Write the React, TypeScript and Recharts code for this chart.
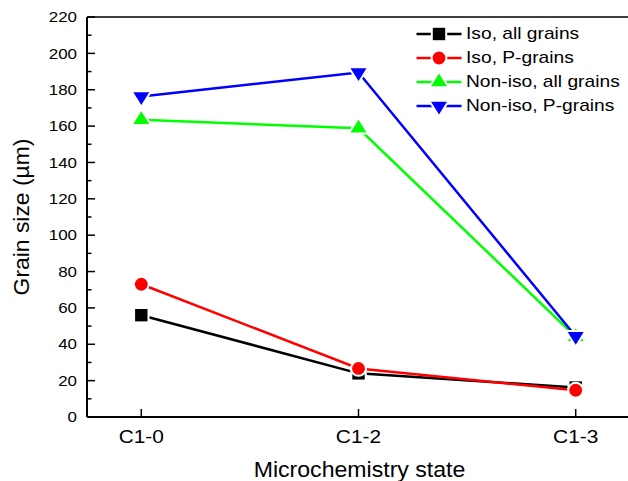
import React from 'react';
import { LineChart, Line, XAxis, YAxis, Legend, ReferenceLine, Customized } from 'recharts';

// ---- data ----
const categories = ['C1-0', 'C1-2', 'C1-3'];
const isoAll = [56, 24, 16.2];
const isoP = [73, 26.7, 14.7];
const nonIsoAll = [163.5, 158.8, 44.1];
const nonIsoP = [176.3, 189.5, 44.4];
const yTicks = [0, 10, 20, 30, 40, 50, 60, 70, 80, 90, 100, 110, 120, 130, 140, 150, 160, 170, 180, 190, 200, 210, 220];
const seriesKeys = ['isoAll', 'isoP', 'nonIsoAll', 'nonIsoP'];
const seriesNames = ['Iso, all grains', 'Iso, P-grains', 'Non-iso, all grains', 'Non-iso, P-grains'];
const seriesColors = ['#000000', '#ff0000', '#00ff00', '#0000ff'];
const seriesShapes = ['square', 'circle', 'up', 'down'];
const xTitle = 'Microchemistry state';
const yTitle = 'Grain size (µm)';

const data = categories.map((c, i) => ({
  x: i,
  cat: c,
  isoAll: isoAll[i],
  isoP: isoP[i],
  nonIsoAll: nonIsoAll[i],
  nonIsoP: nonIsoP[i],
}));

const FONT = '"Liberation Sans", Arial, sans-serif';
const SX = 1.13;

function MarkerShape({ cx, cy, shape, color }: { cx: number; cy: number; shape: string; color: string }) {
  if (cx == null || cy == null) return null;
  let el: (fill: string, stroke: string, sw: number) => React.ReactNode;
  if (shape === 'circle') {
    el = (f, s, sw) => <circle cx={cx} cy={cy} r={6.4} fill={f} stroke={s} strokeWidth={sw} />;
  } else {
    let d = '';
    if (shape === 'square') d = `M${cx - 6.2},${cy - 6.2}h12.4v12.4h-12.4z`;
    else if (shape === 'up') d = `M${cx},${cy - 8.5}L${cx + 8},${cy + 4.3}L${cx - 8},${cy + 4.3}Z`;
    else d = `M${cx},${cy + 8.5}L${cx + 8},${cy - 4.3}L${cx - 8},${cy - 4.3}Z`;
    el = (f, s, sw) => <path d={d} fill={f} stroke={s} strokeWidth={sw} strokeLinejoin="round" />;
  }
  return (
    <g>
      {el('#ffffff', '#ffffff', 4)}
      {el(color, 'none', 0)}
    </g>
  );
}

const YTick = (props: any) => {
  const { x, y, payload } = props;
  const v = payload.value;
  const major = v % 20 === 0;
  return (
    <g>
      <line x1={x} x2={x + (major ? 8 : 4.5)} y1={y} y2={y} stroke="#000" strokeWidth={1.5} />
      {major && (
        <text
          transform={`translate(${x - 10},${y}) scale(${SX},1)`}
          x={0}
          y={0}
          textAnchor="end"
          dominantBaseline="central"
          fontSize={15}
          fontFamily={FONT}
          fill="#000"
        >
          {v}
        </text>
      )}
    </g>
  );
};

const XTick = (props: any) => {
  const { x, y, payload } = props;
  return (
    <g>
      <line x1={x} x2={x} y1={y} y2={y - 8} stroke="#000" strokeWidth={1.5} />
      <text
        transform={`translate(${x},${y + 25.5}) scale(${SX},1)`}
        x={0}
        y={0}
        textAnchor="middle"
        fontSize={18.5}
        fontFamily={FONT}
        fill="#000"
      >
        {categories[payload.value]}
      </text>
    </g>
  );
};

const renderLegend = () => (
  <div style={{ fontFamily: FONT, fontSize: 17, color: '#000' }}>
    {seriesNames.map((n, i) => (
      <div key={n} style={{ display: 'flex', alignItems: 'center', height: 24 }}>
        <svg width={48} height={24} style={{ display: 'block' }}>
          <line x1={1.5} x2={46.5} y1={12} y2={12} stroke={seriesColors[i]} strokeWidth={2.5} />
          <MarkerShape cx={24} cy={12} shape={seriesShapes[i]} color={seriesColors[i]} />
        </svg>
        <span
          style={{
            marginLeft: 3,
            whiteSpace: 'nowrap',
            lineHeight: '24px',
            display: 'inline-block',
            transform: `scaleX(${SX})`,
            transformOrigin: 'left center',
          }}
        >
          {n}
        </span>
      </div>
    ))}
  </div>
);

export default function App() {
  return (
    <div style={{ position: 'absolute', left: 0, top: 0, width: 628, height: 481, overflow: 'hidden', background: '#fff' }}>
      <LineChart
        width={640}
        height={481}
        data={data}
        margin={{ top: 17, right: 10, bottom: 0, left: 0 }}
        style={{ fontFamily: FONT }}
      >
        <XAxis
          dataKey="x"
          type="number"
          domain={[-0.25, 2.25]}
          ticks={[0, 1, 2]}
          interval={0}
          height={64}
          tickSize={0}
          tickMargin={0}
          tickLine={false}
          axisLine={{ stroke: '#000', strokeWidth: 2 }}
          tick={<XTick />}
        />
        <YAxis
          type="number"
          domain={[0, 220]}
          ticks={yTicks}
          interval={0}
          width={87}
          tickSize={0}
          tickMargin={0}
          tickLine={false}
          axisLine={{ stroke: '#000', strokeWidth: 2 }}
          tick={<YTick />}
        />
        <ReferenceLine y={220} stroke="#000" strokeWidth={1.5} />
        {seriesKeys.map((k, i) => (
          <Line
            key={k}
            dataKey={k}
            name={seriesNames[i]}
            stroke={seriesColors[i]}
            strokeWidth={2.5}
            isAnimationActive={false}
            activeDot={false}
            dot={(p: any) => (
              <MarkerShape key={`${k}-${p.index}`} cx={p.cx} cy={p.cy} shape={seriesShapes[i]} color={seriesColors[i]} />
            )}
          />
        ))}
        <Legend
          layout="vertical"
          align="center"
          verticalAlign="middle"
          content={renderLegend}
          wrapperStyle={{ position: 'absolute', left: 415, top: 22, width: 'auto', height: 'auto' }}
        />
        <Customized
          component={() => (
            <g>
              <text
                transform="translate(28.5, 217) rotate(-90) scale(1.04,1)"
                textAnchor="middle"
                fontSize={22}
                fontFamily={FONT}
                fill="#000"
              >
                {yTitle}
              </text>
              <text
                transform="translate(359.5, 476.5) scale(1.05,1)"
                textAnchor="middle"
                fontSize={22}
                fontFamily={FONT}
                fill="#000"
              >
                {xTitle}
              </text>
            </g>
          )}
        />
      </LineChart>
    </div>
  );
}
